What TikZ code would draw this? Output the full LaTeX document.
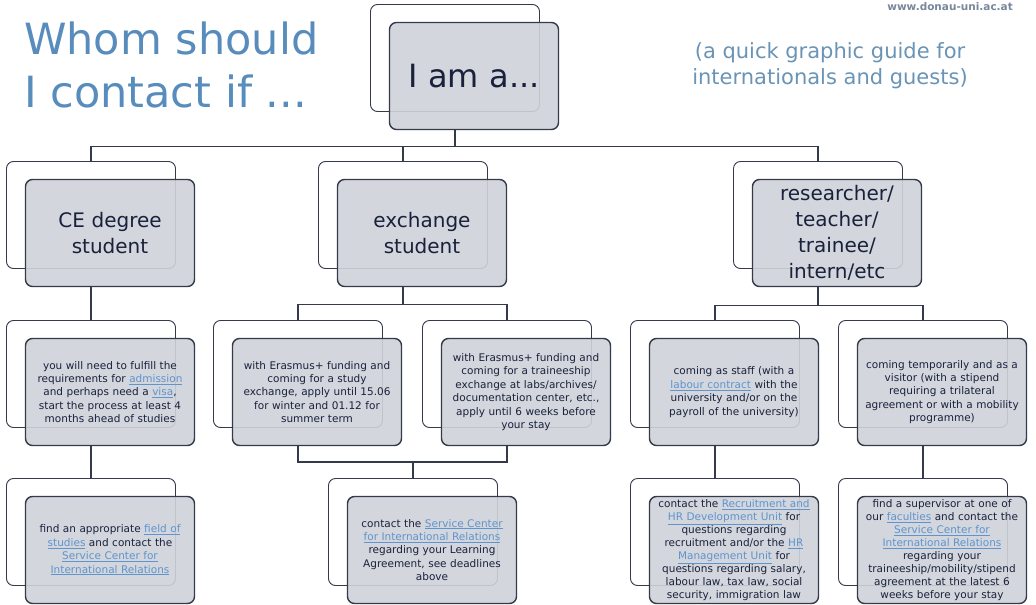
\documentclass[tikz,border=0pt]{standalone}
\usepackage{fontspec}
\setmainfont{DejaVu Sans}
\usetikzlibrary{calc}

\definecolor{titleblue}{RGB}{88,140,188}
\definecolor{subblue}{RGB}{105,148,182}
\definecolor{urlgray}{RGB}{120,135,155}
\definecolor{boxgray}{RGB}{207,210,217}
\definecolor{boxline}{RGB}{52,58,74}
\definecolor{navytext}{RGB}{25,33,60}
\definecolor{linkblue}{RGB}{95,148,205}

\newcommand{\weblink}[1]{\textcolor{linkblue}{\underline{#1}}}

\begin{document}
\begin{tikzpicture}[x=1pt,y=-1pt,
  backbox/.style={draw=boxline, line width=0.9pt, rounded corners=7pt, fill=white,
    minimum width=169pt, minimum height=107pt, inner sep=0pt},
  frontbox/.style={draw=boxline, line width=1.4pt, rounded corners=7pt, fill=boxgray,
    fill opacity=0.9, text opacity=1, text width=163pt, minimum height=107pt,
    inner sep=3pt, align=center, text=navytext},
  header/.style={frontbox, font=\fontsize{20}{26}\selectfont},
  info/.style={frontbox, font=\fontsize{10.5}{13.4}\selectfont},
  branch/.style={draw=boxline, line width=1.2pt}
]

\useasboundingbox (0,0) rectangle (1036,605);

% Titles
\node[anchor=north west, inner sep=0pt, align=left, text=titleblue,
  font=\fontsize{43}{53}\selectfont] (title) at (24,22) {Whom should\\I contact if ...};
\node[anchor=north, inner sep=0pt, align=center, text=subblue,
  font=\fontsize{21}{26}\selectfont] (subtitle) at (830,42)
  {(a quick graphic guide for\\internationals and guests)};
\node[anchor=base east, inner sep=0pt, text=urlgray,
  font=\fontsize{10.5}{12}\selectfont\bfseries] (url) at (1013,10) {www.donau-uni.ac.at};

% Back boxes
\foreach \n/\x/\y in {root/455/58, ce/91/215, ex/403/215, re/818/215,
    ce2/91/374, ex1/298/374, ex2/507/374, re1/715/374, re2/923/374,
    ce3/91/532, ex3/413/532, re3/715/532, re4/923/532}
  \node[backbox] (\n-b) at (\x,\y) {};

% Front boxes
\node[header, font=\fontsize{32}{36}\selectfont] (root) at ($(root-b)+(19,18)$) {I am a...};

\node[header] (ce) at ($(ce-b)+(19,18)$) {CE degree\\student};
\node[header] (ex) at ($(ex-b)+(19,18)$) {exchange\\student};
\node[header] (re) at ($(re-b)+(19,18)$) {researcher/\\teacher/\\trainee/\\intern/etc};

\node[info] (ce2) at ($(ce2-b)+(19,18)$) {you will need to fulfill the\\requirements for \weblink{admission}\\and perhaps need a \weblink{visa},\\start the process at least 4\\months ahead of studies};
\node[info] (ex1) at ($(ex1-b)+(19,18)$) {with Erasmus+ funding and\\coming for a study\\exchange, apply until 15.06\\for winter and 01.12 for\\summer term};
\node[info] (ex2) at ($(ex2-b)+(19,18)$) {with Erasmus+ funding and\\coming for a traineeship\\exchange at labs/archives/\\documentation center, etc.,\\apply until 6 weeks before\\your stay};
\node[info] (re1) at ($(re1-b)+(19,18)$) {coming as staff (with a\\\weblink{labour contract} with the\\university and/or on the\\payroll of the university)};
\node[info] (re2) at ($(re2-b)+(19,18)$) {coming temporarily and as a\\visitor (with a stipend\\requiring a trilateral\\agreement or with a mobility\\programme)};

\node[info] (ce3) at ($(ce3-b)+(19,18)$) {find an appropriate \weblink{field of}\\\weblink{studies} and contact the\\\weblink{Service Center for}\\\weblink{International Relations}};
\node[info] (ex3) at ($(ex3-b)+(19,18)$) {contact the \weblink{Service Center}\\\weblink{for International Relations}\\regarding your Learning\\Agreement, see deadlines\\above};
\node[info, font=\fontsize{10.5}{12.9}\selectfont] (re3) at ($(re3-b)+(19,18)$) {contact the \weblink{Recruitment and}\\\weblink{HR Development Unit} for\\questions regarding\\recruitment and/or the \weblink{HR}\\\weblink{Management Unit} for\\questions regarding salary,\\labour law, tax law, social\\security, immigration law};
\node[info, font=\fontsize{10.5}{12.9}\selectfont] (re4) at ($(re4-b)+(19,18)$) {find a supervisor at one of\\our \weblink{faculties} and contact the\\\weblink{Service Center for}\\\weblink{International Relations}\\regarding your\\traineeship/mobility/stipend\\agreement at the latest 6\\weeks before your stay};

% Connectors
\draw[branch] (root.south -| root-b) -- ++(0,16) coordinate (rootjoin);
\draw[branch] (ce-b.north) |- (rootjoin) -| (re-b.north);
\draw[branch] (ex-b.north) -- (ex-b.north |- rootjoin);

\draw[branch] (ce.south -| ce-b) -- (ce2-b.north);
\draw[branch] (ex.south -| ex-b) -- ++(0,17) coordinate (exjoin);
\draw[branch] (ex1-b.north) |- (exjoin) -| (ex2-b.north);
\draw[branch] (re.south -| re-b) -- ++(0,18) coordinate (rejoin);
\draw[branch] (re1-b.north) |- (rejoin) -| (re2-b.north);

\draw[branch] (ce2.south -| ce2-b) -- (ce3-b.north);
\draw[branch] (ex3-b.north) -- ++(0,-16) coordinate (infojoin);
\draw[branch] (ex1.south -| ex1-b) |- (infojoin) -| (ex2.south -| ex2-b);
\draw[branch] (re1.south -| re1-b) -- (re3-b.north);
\draw[branch] (re2.south -| re2-b) -- (re4-b.north);

\end{tikzpicture}
\end{document}
